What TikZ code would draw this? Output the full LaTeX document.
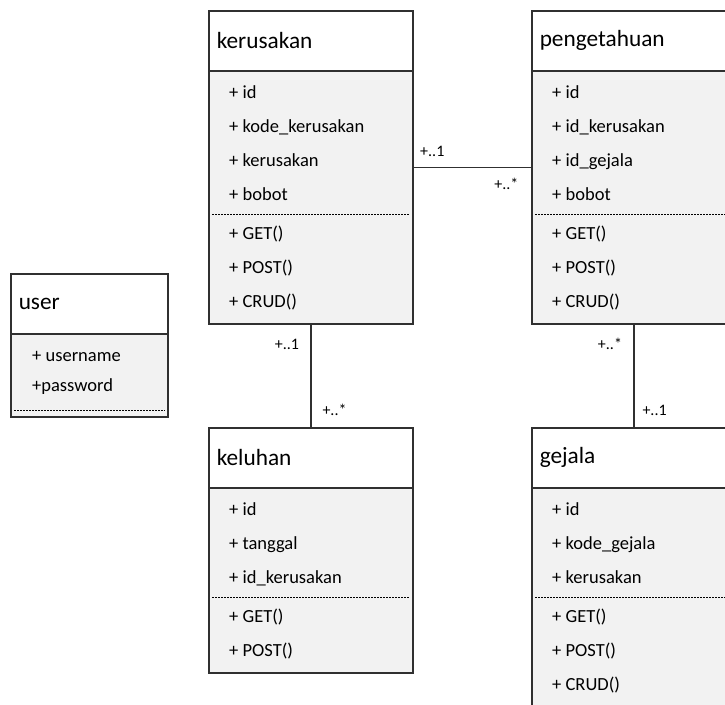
\documentclass[tikz,border=0pt]{standalone}
\usepackage{fontspec}
\setmainfont{Carlito}
\definecolor{bodygray}{HTML}{F2F2F2}
\definecolor{edge}{HTML}{303030}
\begin{document}
\begin{tikzpicture}[x=1pt, y=-1pt,
        box/.style={draw=edge, line width=1.5pt, fill=bodygray, anchor=north west, inner sep=0, minimum width=204},
        head/.style={draw=edge, line width=1.5pt, fill=white, anchor=north west, minimum height=60, inner xsep=8, inner ysep=0, text width=188, align=left, font=\fontsize{23.3}{27}\selectfont},
        row/.style={anchor=west, inner sep=0, text height=0.7em, text depth=0.2em, font=\fontsize{18.5}{22}\selectfont},
        sep/.style={line width=0.8pt, dash pattern=on 1.8pt off 1.2pt},
        link/.style={draw=edge, line width=1.5pt},
        mult/.style={inner sep=0, font=\fontsize{16}{18}\selectfont}]
    \useasboundingbox (0,0) rectangle (725,704);
    \clip (0,0) rectangle (725,704);

    \node[box, minimum height=313] (ker) at (208,10) {};
    \node[head] (kerhead) at (ker.north west) {kerusakan};
    \foreach \t [count=\i] in {+ id, + kode\_kerusakan, + kerusakan, + bobot}
        \node[row] (ker-a\i) at ([shift={(21,24+34*\i-34)}]kerhead.south west) {\t};
    \draw[sep] ([shift={(4,143)}]kerhead.south west) -- ([shift={(-4,143)}]kerhead.south east);
    \foreach \t [count=\i] in {+ GET(), + POST(), + CRUD()}
        \node[row] (ker-m\i) at ([shift={(21,165+34*\i-34)}]kerhead.south west) {\t};

    \node[box, minimum height=313] (peng) at (531,10) {};
    \node[head] (penghead) at (peng.north west) {pengetahuan};
    \foreach \t [count=\i] in {+ id, + id\_kerusakan, + id\_gejala, + bobot}
        \node[row] (peng-a\i) at ([shift={(21,24+34*\i-34)}]penghead.south west) {\t};
    \draw[sep] ([shift={(4,143)}]penghead.south west) -- ([shift={(-4,143)}]penghead.south east);
    \foreach \t [count=\i] in {+ GET(), + POST(), + CRUD()}
        \node[row] (peng-m\i) at ([shift={(21,165+34*\i-34)}]penghead.south west) {\t};

    \node[box, minimum height=245] (kel) at (208,427) {};
    \node[head] (kelhead) at (kel.north west) {keluhan};
    \foreach \t [count=\i] in {+ id, + tanggal, + id\_kerusakan}
        \node[row] (kel-a\i) at ([shift={(21,24+34*\i-34)}]kelhead.south west) {\t};
    \draw[sep] ([shift={(4,109)}]kelhead.south west) -- ([shift={(-4,109)}]kelhead.south east);
    \foreach \t [count=\i] in {+ GET(), + POST()}
        \node[row] (kel-m\i) at ([shift={(21,131+34*\i-34)}]kelhead.south west) {\t};

    \node[box, minimum height=279] (gej) at (531,427) {};
    \node[head] (gejhead) at (gej.north west) {gejala};
    \foreach \t [count=\i] in {+ id, + kode\_gejala, + kerusakan}
        \node[row] (gej-a\i) at ([shift={(21,24+34*\i-34)}]gejhead.south west) {\t};
    \draw[sep] ([shift={(4,109)}]gejhead.south west) -- ([shift={(-4,109)}]gejhead.south east);
    \foreach \t [count=\i] in {+ GET(), + POST(), + CRUD()}
        \node[row] (gej-m\i) at ([shift={(21,131+34*\i-34)}]gejhead.south west) {\t};

    \node[box, minimum width=157, minimum height=143] (user) at (10,273) {};
    \node[head, text width=141] (userhead) at (user.north west) {user};
    \foreach \t [count=\i] in {+ username, +password}
        \node[row] (user-a\i) at ([shift={(22,24+30*\i-30)}]userhead.south west) {\t};
    \draw[sep] ([shift={(4,76)}]userhead.south west) -- ([shift={(-4,76)}]userhead.south east);

    \draw[link] (ker) -- (peng)
        node[mult, pos=0.16, above=10pt] (m1) {+..1}
        node[mult, pos=0.79, below=10pt] (m2) {+..*};
    \draw[link] (ker) -- (kel)
        node[mult, pos=0.19, left=11pt] (m3) {+..1}
        node[mult, pos=0.83, right=11pt] (m4) {+..*};
    \draw[link] (peng) -- (gej)
        node[mult, pos=0.19, left=11pt] (m5) {+..*}
        node[mult, pos=0.84, right=8pt] (m6) {+..1};
\end{tikzpicture}
\end{document}
